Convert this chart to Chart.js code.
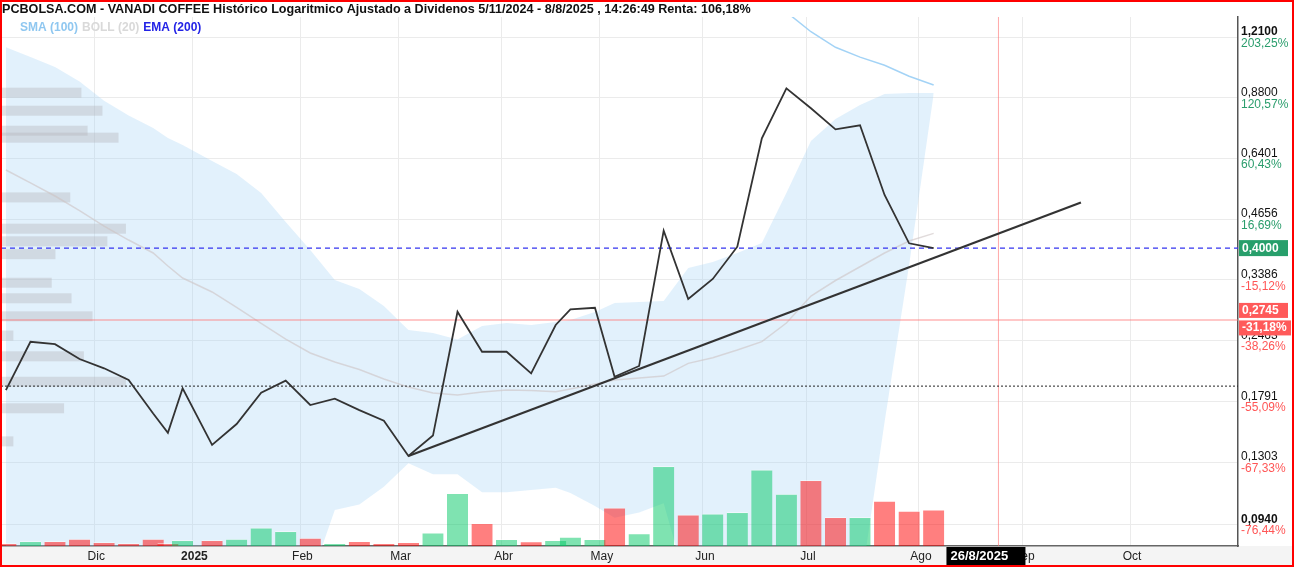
<!DOCTYPE html>
<html><head><meta charset="utf-8">
<script src="https://cdn.jsdelivr.net/npm/chart.js@4.4.1/dist/chart.umd.min.js"></script>
<style>html,body{margin:0;padding:0;background:#fff;}canvas{display:block;}</style>
</head><body>
<canvas id="c" width="1294" height="567"></canvas>
<script>
// ---------- DATA ----------
const titleText = 'PCBOLSA.COM - VANADI COFFEE Histórico Logaritmico Ajustado a Dividenos 5/11/2024 - 8/8/2025 , 14:26:49 Renta: 106,18%';
const legendItems = ['SMA (100)', 'BOLL (20)', 'EMA (200)'];
// trading-day offset from 5/11/2024 of each weekly sample
const weekIdx = [1,6,11,16,21,26,31,34,37,43,48,53,58,63,68,73,78,83,88,93,98,103,108,113,116,121,125,130,135,140,145,150,155,160,165,170,175,180,185,190];
const closes = [0.190,0.2448,0.2417,0.2236,0.2130,0.2003,0.168,0.1519,0.1918,0.1425,0.1590,0.1873,0.1996,0.1757,0.1817,0.1711,0.1618,0.1345,0.1497,0.2865,0.2323,0.2323,0.2074,0.2673,0.2902,0.2926,0.2038,0.2156,0.4382,0.3063,0.3402,0.4029,0.7114,0.9246,0.8326,0.7457,0.7616,0.5284,0.4102,0.4000];
const volumes = [2700,4700,4700,7000,3700,2700,7000,2700,5700,5700,7000,18300,14700,8000,2700,4700,2700,3700,13300,52700,22700,6700,4300,5700,9000,6700,38300,12300,79700,31300,32300,33700,76300,52000,65700,28700,28700,45000,35000,36300];
const volUp = [0,1,0,0,0,0,0,0,1,0,1,1,1,0,1,0,0,0,1,1,0,1,0,1,1,1,0,1,1,0,1,1,1,1,0,0,1,0,0,0];
const bollUpper = [1.1464,1.089,1.0338,0.958,0.866,0.8018,0.7508,0.7125,0.6868,0.6315,0.5899,0.534,0.4586,0.396,0.3383,0.3228,0.2952,0.2603,0.2563,0.2477,0.2659,0.2701,0.2673,0.2715,0.2743,0.2861,0.2999,0.3015,0.3031,0.3603,0.3718,0.3899,0.4108,0.534,0.7013,0.7871,0.847,0.8974,0.9022,0.9022];
const bollLower = [0.075,0.074,0.072,0.071,0.070,0.069,0.068,0.068,0.068,0.067,0.067,0.067,0.068,0.070,0.1013,0.1043,0.1145,0.1294,0.1222,0.1222,0.1112,0.1112,0.1125,0.1139,0.1108,0.1035,0.0973,0.1000,0.1049,0.0666,0.058,0.052,0.048,0.046,0.046,0.050,0.0666,0.1607,0.366,0.8973];
const bollMid = [0.6025,0.563,0.5256,0.4871,0.4491,0.4173,0.3899,0.3642,0.3419,0.3178,0.293,0.2697,0.2483,0.2308,0.2201,0.2116,0.2013,0.193,0.1871,0.1851,0.188,0.1901,0.1896,0.1884,0.1911,0.1961,0.2003,0.2024,0.2045,0.2186,0.2252,0.2344,0.2449,0.2701,0.3111,0.3375,0.3628,0.3899,0.4152,0.4322];
const sma100 = [null,null,null,null,null,null,null,null,null,null,null,null,null,null,null,null,null,null,null,null,null,null,null,null,null,null,null,null,null,null,null,null,null,1.379,1.244,1.1464,1.089,1.0431,0.9852,0.9408];
const monthIdx = [19,39,61,81,102,122,143,164,187,208,230];
const monthLabels = ['Dic','2025','Feb','Mar','Abr','May','Jun','Jul','Ago','Sep','Oct'];
const yTickValues = [1.21,0.88,0.6401,0.4656,0.3386,0.2463,0.1791,0.1303,0.094];
const yTickLabels = ['1,2100','0,8800','0,6401','0,4656','0,3386','0,2463','0,1791','0,1303','0,0940'];
const yTickPct = ['203,25%','120,57%','60,43%','16,69%','-15,12%','-38,26%','-55,09%','-67,33%','-76,44%'];
const profilePrice = [0.9036,0.8221,0.7403,0.7137,0.5218,0.4429,0.4145,0.3875,0.3336,0.3075,0.2797,0.2529,0.2268,0.1985,0.1727,0.1452];
const profileVol = [6.5,8.2,7.0,9.5,5.6,10.1,8.6,4.4,4.1,5.7,7.4,1.0,6.7,10.1,5.1,1.0];
const trendIdx = [83,220];
const trendPrice = [0.1345,0.508];
const lastPrice = 0.4, lastPriceLabel = '0,4000';
const refPrice = 0.2745, refLabel = '0,2745', refPct = '-31,18%';
const startPrice = 0.194;
const markerIdx = 203.2, markerLabel = '26/8/2025';
const xMin = 0, xMax = 252, yMin = 0.08389, yMax = 1.3438;

// ---------- BUILD ----------
const pts = arr => weekIdx.map((x,i)=>({x, y: arr[i]}));
const hline = v => [{x:xMin,y:v},{x:xMax,y:v}];
const GREEN_BAR = 'rgba(0,200,100,0.5)', RED_BAR = 'rgba(255,0,0,0.5)';

const datasets = [
  {label:'trend', data: trendIdx.map((x,i)=>({x,y:trendPrice[i]})), borderColor:'#333', borderWidth:2.2, order:0},
  {label:'close', data: pts(closes), borderColor:'#333', borderWidth:1.8, order:1},
  {label:'last', data: hline(lastPrice), borderColor:'#3434f0', borderWidth:1.2, borderDash:[5,4], order:2},
  {label:'ref', data: hline(refPrice), borderColor:'rgba(255,120,120,0.55)', borderWidth:1.5, order:2},
  {label:'start', data: hline(startPrice), borderColor:'#222', borderWidth:1, borderDash:[2,2], order:2},
  {label:'marker', data: [{x:markerIdx,y:yMin},{x:markerIdx,y:yMax}], borderColor:'rgba(255,110,110,0.6)', borderWidth:1, order:2},
  {label:'sma', data: pts(sma100), borderColor:'#a3d3f6', borderWidth:1.5, order:3},
  {label:'mid', data: pts(bollMid), borderColor:'rgba(205,195,195,0.6)', borderWidth:1.5, order:4},
  {type:'bar', label:'vol', data: pts(volumes), yAxisID:'yv', backgroundColor: volUp.map(u=>u?GREEN_BAR:RED_BAR),
    borderColor:'rgba(255,255,255,0.45)', borderWidth:{top:1,left:0,right:0,bottom:0}, borderSkipped:'bottom', barThickness:21, order:5},
  {label:'lower', data: pts(bollLower), borderWidth:0, borderColor:'rgba(0,0,0,0)', order:6},
  {label:'upper', data: pts(bollUpper), borderWidth:0, borderColor:'rgba(0,0,0,0)', backgroundColor:'rgba(160,210,245,0.3)', fill:9, order:7},
];
datasets.forEach(d=>{ if(!d.type){ d.type='line'; d.pointRadius=0; d.tension=0; d.yAxisID = d.yAxisID||'y'; d.fill = d.fill===undefined?false:d.fill; d.spanGaps=false; } d.xAxisID='x'; });

const FONT = '"Liberation Sans", Arial, sans-serif';
const drawer = {
  id:'drawer',
  beforeDraw(chart){
    const ctx = chart.ctx;
    ctx.save();
    ctx.fillStyle = '#fff'; ctx.fillRect(0,0,chart.width,chart.height);
    ctx.fillStyle = '#f4f4f4'; ctx.fillRect(0, chart.chartArea.bottom, chart.width, chart.height - chart.chartArea.bottom);
    ctx.restore();
  },
  afterDatasetDraw(chart, args){
    if (chart.data.datasets[args.index].label !== 'upper') return;
    const ctx = chart.ctx, y = chart.scales.y, xp = chart.scales.xp, ca = chart.chartArea;
    ctx.save();
    ctx.beginPath(); ctx.rect(ca.left, ca.top, ca.right-ca.left, ca.bottom-ca.top); ctx.clip();
    ctx.fillStyle = 'rgba(180,180,185,0.38)';
    profilePrice.forEach((p,i)=>{
      const py = y.getPixelForValue(p);
      const w = xp.getPixelForValue(profileVol[i]) - xp.getPixelForValue(0);
      ctx.fillRect(ca.left, py-5, w, 10);
    });
    ctx.restore();
  },
  afterDraw(chart){
    const ctx = chart.ctx, y = chart.scales.y, x = chart.scales.x, ca = chart.chartArea;
    ctx.save();
    // title
    ctx.textBaseline = 'middle'; ctx.textAlign = 'left';
    ctx.fillStyle = '#111';
    ctx.font = 'bold 12.6px ' + FONT;
    ctx.fillText(titleText, 2, 9.5);
    // legend
    ctx.font = 'bold 12px ' + FONT;
    const lc = ['#8fc7f0','#d9d9d9','#2323e6'];
    let lx = 20;
    legendItems.forEach((t,i)=>{ ctx.fillStyle = lc[i]; ctx.fillText(t, lx, 27.5); lx += ctx.measureText(t).width + 4; });
    // y labels
    const lx0 = ca.right + 3;
    yTickValues.forEach((v,i)=>{
      const py = y.getPixelForValue(v);
      const bold = (i===0 || i===yTickValues.length-1);
      ctx.font = (bold?'bold ':'') + '12px ' + FONT;
      ctx.fillStyle = '#111';
      ctx.fillText(yTickLabels[i], lx0, py-5);
      ctx.font = '12px ' + FONT;
      ctx.fillStyle = yTickPct[i].startsWith('-') ? '#ff5656' : '#2a9d6c';
      ctx.fillText(yTickPct[i], lx0, py+6.5);
    });
    // last price box
    ctx.font = 'bold 12px ' + FONT;
    let py = y.getPixelForValue(lastPrice);
    ctx.fillStyle = '#279f6b'; ctx.fillRect(ca.right+1, py-8, 49, 16);
    ctx.fillStyle = '#fff'; ctx.fillText(lastPriceLabel, lx0+1, py+0.5);
    // ref boxes
    py = y.getPixelForValue(refPrice);
    ctx.fillStyle = '#ff5a5a'; ctx.fillRect(ca.right+1, py-17, 49, 15);
    ctx.fillStyle = '#fff'; ctx.fillText(refLabel, lx0+1, py-9.5);
    ctx.fillStyle = '#ff5a5a'; ctx.fillRect(ca.right+1, py+0.5, 52, 15);
    ctx.fillStyle = '#fff'; ctx.fillText(refPct, lx0+1, py+8);
    // date box
    const mx = x.getPixelForValue(markerIdx);
    ctx.font = 'bold 13px ' + FONT;
    ctx.fillStyle = '#000'; ctx.fillRect(mx-52, ca.bottom+1, 79, 19);
    ctx.fillStyle = '#fff'; ctx.fillText(markerLabel, mx-48, ca.bottom+10.5);
    // border
    ctx.strokeStyle = '#ff0000'; ctx.lineWidth = 2;
    ctx.strokeRect(1, 1, chart.width-2, chart.height-2);
    ctx.restore();
  }
};

new Chart(document.getElementById('c'), {
  type:'line',
  data:{datasets},
  plugins:[drawer],
  options:{
    responsive:false, animation:false, devicePixelRatio:1, events:[],
    layout:{padding:{top:17, left:1, right:0, bottom:0}},
    plugins:{legend:{display:false}, tooltip:{enabled:false}},
    scales:{
      x:{type:'linear', min:xMin, max:xMax, bounds:'data', offset:false, position:'bottom',
        afterBuildTicks: s => { s.ticks = monthIdx.map(v=>({value:v})); },
        afterFit: s => { s.height = 21; },
        ticks:{autoSkip:false, maxRotation:0, padding:3, labelOffset:2, color:'#222',
          font: c => ({family:FONT, size:12, weight: (c.tick && c.tick.value===39) ? 'bold' : 'normal'}),
          callback:(v,i)=>monthLabels[i]},
        grid:{color:'#ebebeb', lineWidth:1, drawTicks:false, offset:false},
        border:{display:true, color:'#666', width:1.5}},
      y:{type:'logarithmic', position:'right', min:yMin, max:yMax, bounds:'data',
        afterBuildTicks: s => { s.ticks = yTickValues.map(v=>({value:v})); },
        afterFit: s => { s.width = 56; },
        ticks:{display:false},
        grid:{color:'#ebebeb', lineWidth:1, drawTicks:false},
        border:{display:true, color:'#555', width:1.5}},
      yv:{type:'linear', display:false, min:0, max: Math.max(...volumes)*6.64},
      xp:{type:'linear', axis:'x', display:false, min:0, max:100}
    }
  }
});
</script>
</body></html>
